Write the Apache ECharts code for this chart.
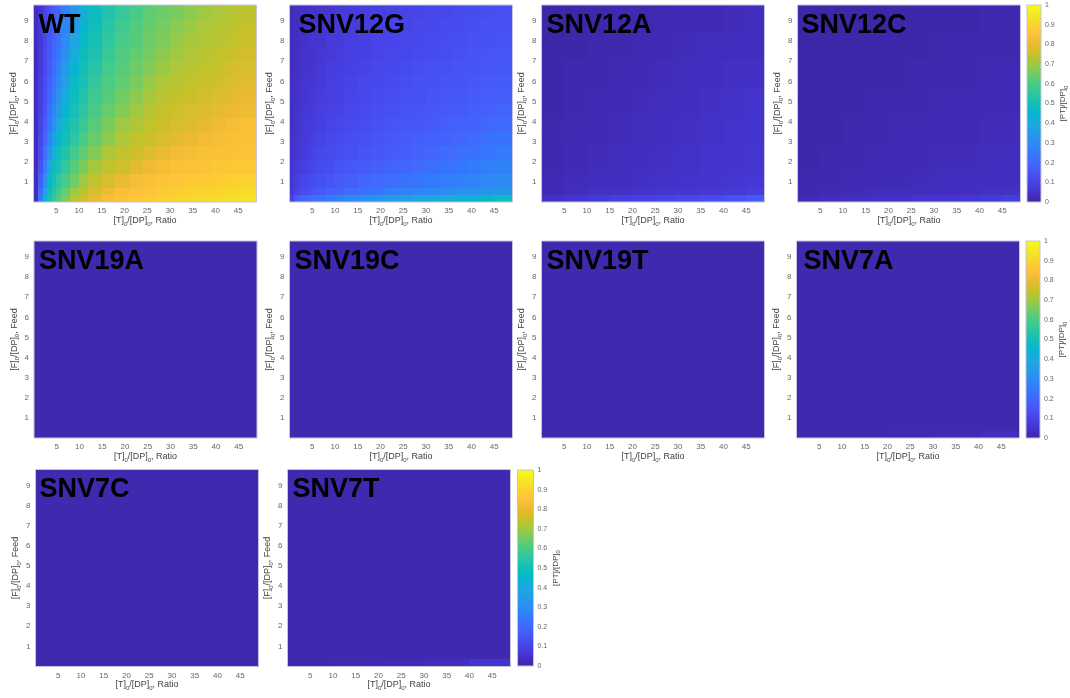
<!DOCTYPE html>
<html>
<head>
<meta charset="utf-8">
<script src="https://cdn.jsdelivr.net/npm/echarts@6/dist/echarts.min.js"></script>
<style>
html,body{margin:0;padding:0;background:#fff;}
#chart{width:1070px;height:698px;}
</style>
</head>
<body>
<div id="chart"></div>
<script>
// ---------- DATA ----------
const panelNames = ['WT','SNV12G','SNV12A','SNV12C','SNV19A','SNV19C','SNV19T','SNV7A','SNV7C','SNV7T'];

// cell edges (data units): Ratio on x, Feed on y
const fineX = [0,1,2,3,4,5,6,8,10,12,15,18,21,24,27,30,33,36,39,42,45,49];
const fineY = [0,0.35,0.7,1.4,2.1,2.8,3.5,4.2,4.9,5.6,6.3,7.0,7.7,8.4,9.1,9.8];
const coarseX = [0,5,10,15,20,25,30,35,40,45,49];
const coarseY = [0,0.35,0.7,1.4,2.8,4.2,5.6,7.0,8.4,9.8];
const flatX = [0,10,20,30,40,49];
const flatY = [0,0.35,9.8];

const xTicks = [5,10,15,20,25,30,35,40,45];
const yTicks = [1,2,3,4,5,6,7,8,9];
const cbTicks = [0,0.1,0.2,0.3,0.4,0.5,0.6,0.7,0.8,0.9,1];

// rows listed bottom (Feed≈0) to top (Feed≈9.8)
const wtValues = [
 [0.03,0.25,0.44,0.51,0.56,0.61,0.66,0.73,0.755,0.80,0.835,0.85,0.865,0.875,0.89,0.90,0.91,0.915,0.92,0.93,0.935],
 [0.03,0.21,0.39,0.49,0.54,0.58,0.63,0.70,0.735,0.77,0.81,0.835,0.85,0.86,0.875,0.885,0.89,0.90,0.905,0.91,0.92],
 [0.03,0.18,0.33,0.46,0.51,0.55,0.60,0.65,0.70,0.74,0.77,0.80,0.83,0.84,0.85,0.86,0.87,0.875,0.88,0.89,0.90],
 [0.03,0.14,0.26,0.38,0.48,0.51,0.56,0.62,0.66,0.71,0.74,0.76,0.79,0.81,0.83,0.84,0.845,0.85,0.86,0.865,0.87],
 [0.03,0.12,0.22,0.32,0.42,0.48,0.53,0.59,0.63,0.67,0.72,0.74,0.76,0.78,0.80,0.82,0.83,0.835,0.84,0.845,0.85],
 [0.03,0.11,0.19,0.28,0.36,0.45,0.50,0.55,0.60,0.64,0.68,0.72,0.74,0.755,0.77,0.79,0.80,0.82,0.83,0.835,0.84],
 [0.03,0.10,0.17,0.24,0.32,0.39,0.48,0.53,0.57,0.62,0.66,0.70,0.72,0.74,0.755,0.77,0.78,0.795,0.81,0.825,0.835],
 [0.03,0.09,0.15,0.22,0.29,0.35,0.45,0.51,0.55,0.60,0.64,0.67,0.70,0.73,0.745,0.76,0.77,0.78,0.795,0.805,0.815],
 [0.03,0.085,0.14,0.195,0.26,0.32,0.41,0.49,0.53,0.58,0.62,0.65,0.68,0.71,0.73,0.745,0.755,0.765,0.775,0.79,0.80],
 [0.03,0.08,0.13,0.18,0.235,0.29,0.37,0.475,0.51,0.56,0.605,0.63,0.66,0.69,0.72,0.73,0.74,0.75,0.76,0.775,0.785],
 [0.03,0.075,0.12,0.17,0.215,0.265,0.345,0.445,0.50,0.54,0.59,0.62,0.645,0.67,0.695,0.72,0.73,0.74,0.75,0.765,0.775],
 [0.03,0.07,0.115,0.16,0.20,0.245,0.32,0.41,0.485,0.52,0.57,0.61,0.63,0.655,0.68,0.70,0.72,0.73,0.74,0.75,0.765],
 [0.03,0.065,0.11,0.15,0.19,0.23,0.30,0.385,0.47,0.51,0.555,0.60,0.62,0.645,0.665,0.69,0.71,0.72,0.73,0.74,0.755],
 [0.03,0.065,0.10,0.145,0.18,0.215,0.28,0.36,0.44,0.495,0.54,0.58,0.61,0.635,0.655,0.675,0.695,0.715,0.725,0.735,0.745],
 [0.03,0.06,0.10,0.14,0.175,0.20,0.26,0.335,0.415,0.485,0.525,0.565,0.60,0.625,0.645,0.66,0.68,0.70,0.715,0.725,0.735]
];

const snv12gValues = [
 [0.10,0.16,0.19,0.20,0.21,0.22,0.23,0.25,0.27,0.29,0.31,0.33,0.35,0.37,0.38,0.40,0.41,0.43,0.44,0.46,0.48],
 [0.07,0.10,0.12,0.13,0.14,0.15,0.16,0.18,0.19,0.21,0.23,0.24,0.26,0.27,0.28,0.29,0.30,0.31,0.32,0.33,0.34],
 [0.06,0.08,0.10,0.11,0.12,0.13,0.14,0.15,0.17,0.18,0.20,0.21,0.22,0.23,0.24,0.25,0.26,0.27,0.28,0.29,0.30],
 [0.05,0.07,0.08,0.09,0.10,0.11,0.12,0.13,0.15,0.16,0.17,0.18,0.19,0.20,0.21,0.22,0.23,0.24,0.25,0.26,0.27],
 [0.05,0.06,0.07,0.08,0.09,0.10,0.11,0.12,0.13,0.14,0.15,0.16,0.17,0.18,0.19,0.20,0.21,0.22,0.23,0.24,0.25],
 [0.045,0.055,0.065,0.075,0.08,0.09,0.10,0.11,0.12,0.13,0.14,0.15,0.16,0.17,0.18,0.185,0.19,0.20,0.21,0.22,0.23],
 [0.04,0.05,0.06,0.07,0.075,0.08,0.09,0.10,0.11,0.12,0.13,0.14,0.15,0.155,0.16,0.17,0.18,0.185,0.19,0.20,0.21],
 [0.04,0.05,0.055,0.065,0.07,0.075,0.085,0.095,0.10,0.11,0.12,0.13,0.14,0.145,0.15,0.16,0.165,0.17,0.18,0.185,0.195],
 [0.04,0.045,0.05,0.06,0.065,0.07,0.08,0.09,0.095,0.105,0.115,0.12,0.13,0.135,0.14,0.15,0.155,0.16,0.17,0.175,0.18],
 [0.035,0.045,0.05,0.055,0.06,0.065,0.075,0.085,0.09,0.10,0.11,0.115,0.12,0.13,0.135,0.14,0.145,0.15,0.16,0.165,0.17],
 [0.035,0.04,0.045,0.05,0.055,0.06,0.07,0.08,0.085,0.095,0.10,0.11,0.115,0.12,0.13,0.135,0.14,0.145,0.15,0.155,0.16],
 [0.035,0.04,0.045,0.05,0.055,0.06,0.065,0.075,0.08,0.09,0.095,0.105,0.11,0.115,0.12,0.125,0.13,0.14,0.145,0.15,0.155],
 [0.03,0.035,0.04,0.045,0.05,0.055,0.06,0.07,0.075,0.085,0.09,0.10,0.105,0.11,0.115,0.12,0.125,0.13,0.135,0.14,0.145],
 [0.03,0.035,0.04,0.045,0.05,0.055,0.06,0.065,0.07,0.08,0.085,0.095,0.10,0.105,0.11,0.115,0.12,0.125,0.13,0.135,0.14],
 [0.03,0.035,0.04,0.04,0.045,0.05,0.055,0.06,0.07,0.075,0.08,0.09,0.095,0.10,0.105,0.11,0.115,0.12,0.125,0.13,0.135]
];

const snv12aValues = [
 [0.04,0.06,0.07,0.08,0.09,0.10,0.11,0.12,0.14,0.16],
 [0.02,0.03,0.04,0.045,0.05,0.055,0.06,0.065,0.07,0.08],
 [0.015,0.025,0.03,0.035,0.04,0.045,0.05,0.055,0.06,0.065],
 [0.01,0.02,0.025,0.03,0.035,0.04,0.045,0.05,0.055,0.06],
 [0.01,0.015,0.02,0.025,0.03,0.035,0.04,0.045,0.05,0.055],
 [0.005,0.01,0.015,0.02,0.025,0.03,0.035,0.04,0.045,0.05],
 [0.005,0.01,0.01,0.015,0.02,0.025,0.03,0.035,0.04,0.04],
 [0.0,0.005,0.01,0.01,0.015,0.02,0.025,0.03,0.03,0.035],
 [0.0,0.0,0.005,0.01,0.01,0.015,0.02,0.02,0.025,0.03]
];

const snv12cValues = [
 [0.02,0.03,0.035,0.04,0.045,0.05,0.055,0.06,0.07,0.08],
 [0.01,0.015,0.02,0.025,0.03,0.03,0.035,0.035,0.04,0.045],
 [0.01,0.01,0.015,0.02,0.02,0.025,0.03,0.03,0.035,0.035],
 [0.005,0.01,0.01,0.015,0.015,0.02,0.025,0.025,0.03,0.03],
 [0.005,0.005,0.01,0.01,0.015,0.015,0.02,0.02,0.025,0.025],
 [0.0,0.005,0.005,0.01,0.01,0.01,0.015,0.015,0.02,0.02],
 [0.0,0.0,0.005,0.005,0.005,0.01,0.01,0.01,0.015,0.015],
 [0.0,0.0,0.0,0.005,0.005,0.005,0.01,0.01,0.01,0.01],
 [0.0,0.0,0.0,0.0,0.005,0.005,0.005,0.005,0.01,0.01]
];

const snv19aValues = [[0.01,0.01,0.01,0.01,0.01],[0.01,0.01,0.01,0.01,0.01]];
const snv19cValues = [[0.01,0.01,0.01,0.01,0.01],[0.01,0.01,0.01,0.01,0.01]];
const snv19tValues = [[0.01,0.01,0.01,0.01,0.012],[0.01,0.01,0.01,0.01,0.01]];
const snv7aValues  = [[0.01,0.01,0.015,0.02,0.03],[0.01,0.01,0.01,0.01,0.01]];
const snv7cValues  = [[0.01,0.01,0.01,0.01,0.01],[0.01,0.01,0.01,0.01,0.01]];
const snv7tValues  = [[0.01,0.015,0.02,0.03,0.05],[0.01,0.01,0.01,0.01,0.01]];

// ---------- STYLE / LAYOUT ----------
const parula = ['#3e26a8','#4433cc','#4743e7','#4755f6','#4367fd','#337afd','#2d8cf3','#259be7',
  '#1caade','#05b6ce','#12beb9','#2fc5a2','#48cb86','#71cc64','#9fc942','#c8c129','#eaba31',
  '#fec13a','#fad42e','#f5e825','#f9fb15'];
const FONT = '"Liberation Sans", Arial, Helvetica, sans-serif';

const panelData = [
  {x: fineX, y: fineY, v: wtValues},
  {x: fineX, y: fineY, v: snv12gValues},
  {x: coarseX, y: coarseY, v: snv12aValues},
  {x: coarseX, y: coarseY, v: snv12cValues},
  {x: flatX, y: flatY, v: snv19aValues},
  {x: flatX, y: flatY, v: snv19cValues},
  {x: flatX, y: flatY, v: snv19tValues},
  {x: flatX, y: flatY, v: snv7aValues},
  {x: flatX, y: flatY, v: snv7cValues},
  {x: flatX, y: flatY, v: snv7tValues}
];
const panelBoxes = [
  [33.5,5,223,197],[289.5,5,223,197],[541.5,5,223,197],[797.5,5,223,197],
  [34,241,223,197],[289.5,241,223,197],[541.5,241,223,197],[796.5,241,223,197],
  [35.5,469.5,223,197],[287.5,469.5,223,197]
];
const titleOffsets = [[5,7],[9,7],[5,7],[4,7],[5,7],[5,7],[5,7],[7,7],[4,7],[5,7]];
const cbBoxes = [[1027,5,15.5,197],[1026,241,14,197],[517.5,470,16,196]];

const nameRich = {
  s: {fontSize: 6, color: '#444', fontFamily: FONT, verticalAlign: 'bottom', lineHeight: 6, padding:[0,0,-2,0]}
};

const grids = [], xAxes = [], yAxes = [], series = [], titles = [];

function cellItems(pd) {
  const items = [];
  for (let r = 0; r < pd.v.length; r++) {
    for (let c = 0; c < pd.v[r].length; c++) {
      items.push([pd.x[c], pd.x[c+1], pd.y[r], pd.y[r+1], pd.v[r][c]]);
    }
  }
  return items;
}

function renderCell(params, api) {
  const p0 = api.coord([api.value(0), api.value(2)]);
  const p1 = api.coord([api.value(1), api.value(3)]);
  const x0 = Math.round(p0[0]), x1 = Math.round(p1[0]);
  const yTop = Math.round(p1[1]), yBot = Math.round(p0[1]);
  return {type: 'rect', shape: {x: x0, y: yTop, width: x1 - x0, height: yBot - yTop},
    style: {fill: api.visual('color')}};
}

panelNames.forEach((name, i) => {
  const b = panelBoxes[i];
  grids.push({left: b[0], top: b[1], width: b[2], height: b[3], show: true,
    borderColor: '#c4c4d8', borderWidth: 1, backgroundColor: 'transparent', z: 3});
  xAxes.push({
    gridIndex: i, type: 'value', min: 0, max: 49, interval: 5,
    axisLine: {show: false}, axisTick: {show: false}, splitLine: {show: false},
    axisLabel: {fontSize: 8, color: '#666', fontFamily: FONT, margin: 5,
      formatter: v => (xTicks.indexOf(v) >= 0 ? String(v) : '')},
    name: '[T]{s|0}/[DP]{s|0}, Ratio', nameLocation: 'middle', nameGap: 14,
    nameTextStyle: {fontSize: 9, color: '#444', fontFamily: FONT, rich: nameRich}
  });
  yAxes.push({
    gridIndex: i, type: 'value', min: 0, max: 9.8, interval: 1,
    axisLine: {show: false}, axisTick: {show: false}, splitLine: {show: false},
    axisLabel: {fontSize: 8, color: '#666', fontFamily: FONT, margin: 5,
      formatter: v => (yTicks.indexOf(v) >= 0 ? String(v) : '')},
    name: '[F]{s|0}/[DP]{s|0}, Feed', nameLocation: 'middle', nameGap: 14, nameRotate: 90,
    nameTextStyle: {fontSize: 9, color: '#444', fontFamily: FONT, rich: nameRich}
  });
  series.push({
    type: 'custom', xAxisIndex: i, yAxisIndex: i,
    dimensions: ['x0','x1','y0','y1','v'],
    encode: {x: [0,1], y: [2,3]},
    renderItem: renderCell, data: cellItems(panelData[i]), silent: true, z: 2
  });
  titles.push({text: name, left: b[0] + titleOffsets[i][0], top: b[1] + titleOffsets[i][1], padding: 0,
    textStyle: {fontSize: 27, fontWeight: 'bold', color: '#000', fontFamily: FONT}});
});

const nHeat = panelNames.length;
cbBoxes.forEach((b, k) => {
  const gi = nHeat + k;
  grids.push({left: b[0], top: b[1], width: b[2], height: b[3], show: true,
    borderColor: '#c4c4d8', borderWidth: 1, backgroundColor: 'transparent', z: 3});
  xAxes.push({gridIndex: gi, type: 'value', min: 0, max: 1, show: false});
  yAxes.push({
    gridIndex: gi, type: 'value', min: 0, max: 1, interval: 0.1, position: 'right',
    axisLine: {show: false}, splitLine: {show: false}, axisTick: {show: false},
    axisLabel: {fontSize: 7, color: '#666', fontFamily: FONT, margin: 4,
      formatter: v => (cbTicks.indexOf(Math.round(v*10)/10) >= 0 ? String(Math.round(v*10)/10) : '')},
    name: '[PT]/[DP]{s|0}', nameLocation: 'middle', nameGap: 18, nameRotate: 90,
    nameTextStyle: {fontSize: 8, color: '#444', fontFamily: FONT, rich: nameRich}
  });
  series.push({
    type: 'custom', xAxisIndex: gi, yAxisIndex: gi, silent: true, z: 2,
    data: [[0, 1, 0, 1]],
    renderItem: (params, api) => {
      const p0 = api.coord([0, 0]);
      const p1 = api.coord([1, 1]);
      const stops = parula.map((c, j) => ({offset: j / (parula.length - 1), color: c}));
      return {type: 'rect', shape: {x: p0[0], y: p1[1], width: p1[0] - p0[0], height: p0[1] - p1[1]},
        style: {fill: new echarts.graphic.LinearGradient(0, 1, 0, 0, stops)}};
    }
  });
});

const chart = echarts.init(document.getElementById('chart'), null, {renderer: 'canvas'});
chart.setOption({
  backgroundColor: '#fff',
  animation: false,
  title: titles,
  grid: grids,
  xAxis: xAxes,
  yAxis: yAxes,
  visualMap: {type: 'continuous', show: false, min: 0, max: 1, dimension: 4,
    seriesIndex: panelNames.map((n, i) => i), inRange: {color: parula}},
  series: series
});
</script>
</body>
</html>
